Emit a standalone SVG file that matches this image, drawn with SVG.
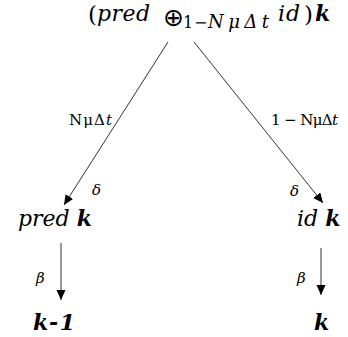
<svg xmlns="http://www.w3.org/2000/svg" width="348" height="337" viewBox="0 0 348 337">
<style>
.m{font-family:"DejaVu Serif","Liberation Serif",serif;fill:#000}
.i{font-style:italic}
.b{font-weight:bold;font-style:italic}
.big{font-size:22px}
.lab{font-size:15px}
.sub{font-size:16px}
.edge{stroke:#333;stroke-width:1;fill:none;marker-end:url(#ah)}
</style>
<defs>
<marker id="ah" markerUnits="userSpaceOnUse" markerWidth="10" markerHeight="10" refX="10" refY="4.5" orient="auto">
<path d="M0,0 L10,4.5 L0,9 z" fill="#000"/>
</marker>
</defs>
<rect width="348" height="337" fill="#fff"/>
<g id="root">
<text class="m" x="88" y="22" font-size="23">(</text>
<text class="m big i" x="97" y="21" textLength="53">pred</text>
<text x="163" y="26" font-size="25" font-family="DejaVu Sans,sans-serif">⊕</text>
<text class="m sub" x="183" y="28">1</text>
<text class="m sub" x="194" y="28">−</text>
<text class="m i" x="208" y="28" font-size="18" textLength="61">NμΔt</text>
<text class="m big i" x="278" y="21" textLength="22">id</text>
<text class="m" x="304" y="22" font-size="23">)</text>
<text class="m big b" x="315" y="21">k</text>
</g>
<g id="connectors">
<line class="edge" x1="168" y1="42" x2="64" y2="205"/>
<line class="edge" x1="194" y1="42" x2="323" y2="203"/>
<line class="edge" x1="61" y1="243" x2="61" y2="300"/>
<line class="edge" x1="321" y1="248" x2="321" y2="295"/>
<text class="m lab" x="69" y="125" textLength="43">NμΔ<tspan class="i">t</tspan></text>
<text class="m lab" x="271" y="125" textLength="67">1 − NμΔ<tspan class="i">t</tspan></text>
<text class="m lab i" x="92" y="195">δ</text>
<text class="m lab i" x="290" y="196">δ</text>
<text class="m lab i" x="36" y="283">β</text>
<text class="m lab i" x="297" y="283">β</text>
</g>
<g id="pred-k">
<text class="m big" x="18" y="226"><tspan class="i">pred</tspan> <tspan class="b">k</tspan></text>
</g>
<g id="id-k">
<text class="m big" x="297" y="226"><tspan class="i">id</tspan> <tspan class="b">k</tspan></text>
</g>
<g id="k-minus-1">
<text class="m big b" x="33" y="330" textLength="42">k-1</text>
</g>
<g id="k">
<text class="m big b" x="314" y="330">k</text>
</g>
</svg>
